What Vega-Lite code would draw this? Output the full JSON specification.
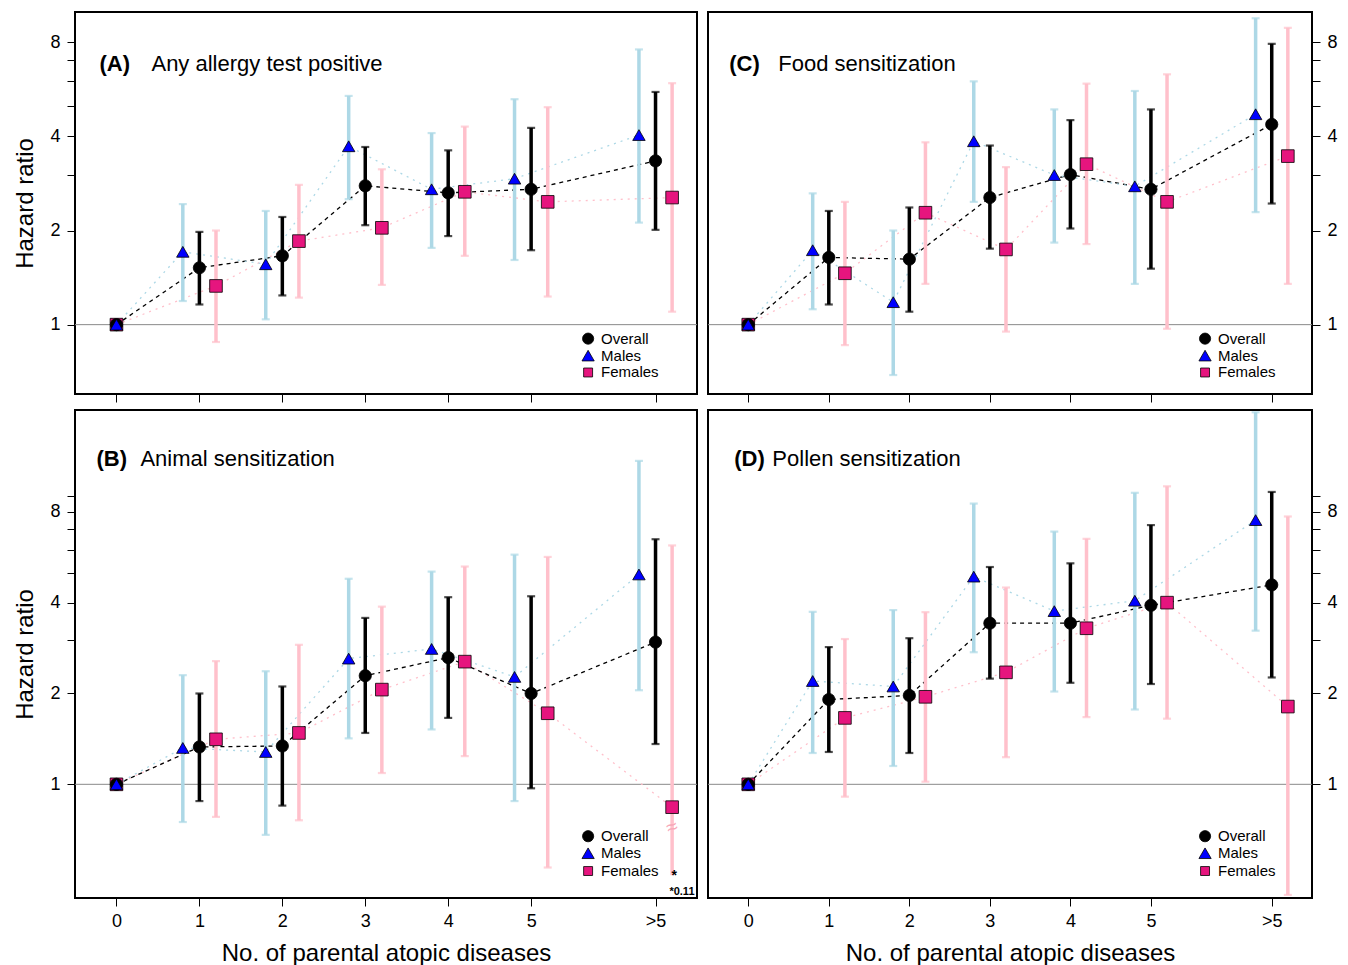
{
"$schema": "https://vega.github.io/schema/vega-lite/v6.json",
"padding": {"left": 12, "top": 11, "right": 0, "bottom": 0},
"background": "white",
"config": {
  "font": "Liberation Sans",
  "view": {"stroke": "black", "strokeWidth": 2},
  "axis": {"labelColor": "black", "tickColor": "black", "titleColor": "black", "labelFontSize": 18, "titleFontWeight": "normal", "grid": false, "domain": false, "tickWidth": 1, "tickSize": 8, "labelFont": "Liberation Sans", "labelOverlap": false, "labelFlush": false, "labelBound": false}
},
"datasets": {"hr": [
{"p":"A","n":"0","s":"Females","hr":1},{"p":"A","n":"0","s":"Overall","hr":1},{"p":"A","n":"0","s":"Males","hr":1},
{"p":"A","n":"1","s":"Females","hr":1.33,"lo":0.88,"hi":2.0},{"p":"A","n":"1","s":"Overall","hr":1.52,"lo":1.16,"hi":1.98},{"p":"A","n":"1","s":"Males","hr":1.71,"lo":1.19,"hi":2.43},
{"p":"A","n":"2","s":"Females","hr":1.85,"lo":1.22,"hi":2.8},{"p":"A","n":"2","s":"Overall","hr":1.66,"lo":1.24,"hi":2.21},{"p":"A","n":"2","s":"Males","hr":1.56,"lo":1.04,"hi":2.31},
{"p":"A","n":"3","s":"Females","hr":2.04,"lo":1.34,"hi":3.14},{"p":"A","n":"3","s":"Overall","hr":2.78,"lo":2.08,"hi":3.7},{"p":"A","n":"3","s":"Males","hr":3.72,"lo":2.52,"hi":5.39},
{"p":"A","n":"4","s":"Females","hr":2.66,"lo":1.66,"hi":4.3},{"p":"A","n":"4","s":"Overall","hr":2.64,"lo":1.92,"hi":3.61},{"p":"A","n":"4","s":"Males","hr":2.71,"lo":1.76,"hi":4.1},
{"p":"A","n":"5","s":"Females","hr":2.47,"lo":1.23,"hi":4.96},{"p":"A","n":"5","s":"Overall","hr":2.71,"lo":1.73,"hi":4.26},{"p":"A","n":"5","s":"Males","hr":2.93,"lo":1.61,"hi":5.26},
{"p":"A","n":">5","s":"Females","hr":2.55,"lo":1.1,"hi":5.92},{"p":"A","n":">5","s":"Overall","hr":3.34,"lo":2.01,"hi":5.55},{"p":"A","n":">5","s":"Males","hr":4.04,"lo":2.12,"hi":7.59},

{"p":"C","n":"0","s":"Females","hr":1},{"p":"C","n":"0","s":"Overall","hr":1},{"p":"C","n":"0","s":"Males","hr":1},
{"p":"C","n":"1","s":"Females","hr":1.46,"lo":0.86,"hi":2.47},{"p":"C","n":"1","s":"Overall","hr":1.64,"lo":1.16,"hi":2.31},{"p":"C","n":"1","s":"Males","hr":1.73,"lo":1.12,"hi":2.63},
{"p":"C","n":"2","s":"Females","hr":2.28,"lo":1.35,"hi":3.83},{"p":"C","n":"2","s":"Overall","hr":1.62,"lo":1.1,"hi":2.37},{"p":"C","n":"2","s":"Males","hr":1.18,"lo":0.69,"hi":2.0},
{"p":"C","n":"3","s":"Females","hr":1.74,"lo":0.95,"hi":3.19},{"p":"C","n":"3","s":"Overall","hr":2.55,"lo":1.75,"hi":3.74},{"p":"C","n":"3","s":"Males","hr":3.86,"lo":2.47,"hi":6.0},
{"p":"C","n":"4","s":"Females","hr":3.26,"lo":1.81,"hi":5.9},{"p":"C","n":"4","s":"Overall","hr":3.02,"lo":2.03,"hi":4.51},{"p":"C","n":"4","s":"Males","hr":3.01,"lo":1.83,"hi":4.88},
{"p":"C","n":"5","s":"Females","hr":2.47,"lo":0.97,"hi":6.32},{"p":"C","n":"5","s":"Overall","hr":2.71,"lo":1.51,"hi":4.88},{"p":"C","n":"5","s":"Males","hr":2.77,"lo":1.35,"hi":5.59},
{"p":"C","n":">5","s":"Females","hr":3.46,"lo":1.35,"hi":8.9},{"p":"C","n":">5","s":"Overall","hr":4.37,"lo":2.44,"hi":7.91},{"p":"C","n":">5","s":"Males","hr":4.71,"lo":2.29,"hi":9.55},

{"p":"B","n":"0","s":"Females","hr":1},{"p":"B","n":"0","s":"Overall","hr":1},{"p":"B","n":"0","s":"Males","hr":1},
{"p":"B","n":"1","s":"Females","hr":1.41,"lo":0.78,"hi":2.56},{"p":"B","n":"1","s":"Overall","hr":1.33,"lo":0.88,"hi":2.0},{"p":"B","n":"1","s":"Males","hr":1.32,"lo":0.75,"hi":2.3},
{"p":"B","n":"2","s":"Females","hr":1.48,"lo":0.76,"hi":2.9},{"p":"B","n":"2","s":"Overall","hr":1.34,"lo":0.85,"hi":2.11},{"p":"B","n":"2","s":"Males","hr":1.28,"lo":0.68,"hi":2.37},
{"p":"B","n":"3","s":"Females","hr":2.06,"lo":1.09,"hi":3.88},{"p":"B","n":"3","s":"Overall","hr":2.29,"lo":1.48,"hi":3.56},{"p":"B","n":"3","s":"Males","hr":2.61,"lo":1.42,"hi":4.8},
{"p":"B","n":"4","s":"Females","hr":2.55,"lo":1.24,"hi":5.27},{"p":"B","n":"4","s":"Overall","hr":2.63,"lo":1.66,"hi":4.17},{"p":"B","n":"4","s":"Males","hr":2.81,"lo":1.52,"hi":5.07},
{"p":"B","n":"5","s":"Females","hr":1.72,"lo":0.53,"hi":5.67},{"p":"B","n":"5","s":"Overall","hr":2.0,"lo":0.97,"hi":4.2},{"p":"B","n":"5","s":"Males","hr":2.27,"lo":0.88,"hi":5.77},
{"p":"B","n":">5","s":"Females","hr":0.84,"lo":0.11,"hi":6.19},{"p":"B","n":">5","s":"Overall","hr":2.96,"lo":1.36,"hi":6.49},{"p":"B","n":">5","s":"Males","hr":4.96,"lo":2.05,"hi":11.8},

{"p":"D","n":"0","s":"Females","hr":1},{"p":"D","n":"0","s":"Overall","hr":1},{"p":"D","n":"0","s":"Males","hr":1},
{"p":"D","n":"1","s":"Females","hr":1.66,"lo":0.91,"hi":3.03},{"p":"D","n":"1","s":"Overall","hr":1.91,"lo":1.28,"hi":2.85},{"p":"D","n":"1","s":"Males","hr":2.2,"lo":1.27,"hi":3.73},
{"p":"D","n":"2","s":"Females","hr":1.95,"lo":1.02,"hi":3.72},{"p":"D","n":"2","s":"Overall","hr":1.97,"lo":1.27,"hi":3.05},{"p":"D","n":"2","s":"Males","hr":2.11,"lo":1.15,"hi":3.78},
{"p":"D","n":"3","s":"Females","hr":2.35,"lo":1.23,"hi":4.49},{"p":"D","n":"3","s":"Overall","hr":3.42,"lo":2.24,"hi":5.25},{"p":"D","n":"3","s":"Males","hr":4.88,"lo":2.74,"hi":8.52},
{"p":"D","n":"4","s":"Females","hr":3.29,"lo":1.67,"hi":6.51},{"p":"D","n":"4","s":"Overall","hr":3.42,"lo":2.17,"hi":5.4},{"p":"D","n":"4","s":"Males","hr":3.75,"lo":2.03,"hi":6.88},
{"p":"D","n":"5","s":"Females","hr":4.0,"lo":1.65,"hi":9.72},{"p":"D","n":"5","s":"Overall","hr":3.92,"lo":2.15,"hi":7.23},{"p":"D","n":"5","s":"Males","hr":4.06,"lo":1.77,"hi":9.25},
{"p":"D","n":">5","s":"Females","hr":1.81,"lo":0.43,"hi":7.72},{"p":"D","n":">5","s":"Overall","hr":4.58,"lo":2.26,"hi":9.31},{"p":"D","n":">5","s":"Males","hr":7.51,"lo":3.23,"hi":17.1}
], "one": [{"k": 1}]},
"columns": 2,
"bounds": "flush",
"spacing": {"row": 16, "column": 11},
"resolve": {"scale": {"color": "independent", "fill": "independent", "shape": "independent", "size": "independent", "strokeDash": "independent"}},
"concat": [
 {"width": 622, "height": 382, "data": {"name": "hr"},
  "transform": [{"filter": "datum.p == 'A'"},
   {"calculate": "(datum.n == '>5' ? 6.5 : toNumber(datum.n)) + (datum.n == '0' ? 0 : (datum.s == 'Males' ? -0.2 : (datum.s == 'Females' ? 0.2 : 0)))", "as": "xp"},
   {"calculate": "isValid(datum.lo) && datum.lo < 0.42 ? 0.5 : datum.lo", "as": "lop"}],
  "layer": [
   {"data": {"name": "one"}, "mark": {"type": "rule", "color": "#8a8a8a", "strokeWidth": 1}, "encoding": {"y": {"datum": 1, "type": "quantitative"}}},
   {"mark": {"type": "line", "strokeWidth": 1.3},
    "encoding": {
     "x": {"field": "xp", "type": "quantitative", "scale": {"domain": [-0.5, 7], "nice": false, "zero": false}, "axis": {"values": [0,1,2,3,4,5,6.5], "labels": false, "title": null}},
     "y": {"field": "hr", "type": "quantitative", "scale": {"type": "log", "domain": [0.6, 10], "nice": false}, "axis": {"orient": "left", "values": [1,2,3,4,5,6,7,8], "labelExpr": "(datum.value == 1 || datum.value == 2 || datum.value == 4 || datum.value == 8) ? '' + datum.value : ''", "labelPadding": 7, "title": "Hazard ratio", "titleFontSize": 24, "titlePadding": 12}},
     "color": {"field": "s", "type": "nominal", "scale": {"domain": ["Overall","Males","Females"], "range": ["#000000","#ADD8E6","#FFC0CB"]}, "legend": null},
     "strokeDash": {"field": "s", "type": "nominal", "scale": {"domain": ["Overall","Males","Females"], "range": [[4,4],[2,5],[2,5]]}, "legend": null}}},
   {"transform": [{"filter": "isValid(datum.lo)"}], "mark": {"type": "rule", "strokeWidth": 3.5},
    "encoding": {"x": {"field": "xp", "type": "quantitative"}, "y": {"field": "lop", "type": "quantitative"}, "y2": {"field": "hi"}, "color": {"field": "s", "type": "nominal", "legend": null}}},
   {"transform": [{"filter": "isValid(datum.lo) && datum.lo >= 0.42"}], "mark": {"type": "tick", "orient": "horizontal", "size": 8, "thickness": 2.2},
    "encoding": {"x": {"field": "xp", "type": "quantitative"}, "y": {"field": "lo", "type": "quantitative"}, "color": {"field": "s", "type": "nominal", "legend": null}}},
   {"transform": [{"filter": "isValid(datum.hi)"}], "mark": {"type": "tick", "orient": "horizontal", "size": 8, "thickness": 2.2},
    "encoding": {"x": {"field": "xp", "type": "quantitative"}, "y": {"field": "hi", "type": "quantitative"}, "color": {"field": "s", "type": "nominal", "legend": null}}},
   {"mark": {"type": "point", "filled": true, "stroke": "black", "strokeWidth": 0.8, "opacity": 1},
    "encoding": {"x": {"field": "xp", "type": "quantitative"}, "y": {"field": "hr", "type": "quantitative"},
     "fill": {"field": "s", "type": "nominal", "scale": {"domain": ["Overall","Males","Females"], "range": ["#000000","#0000FF","#E6157E"]}, "legend": null},
     "shape": {"field": "s", "type": "nominal", "scale": {"domain": ["Overall","Males","Females"], "range": ["circle","triangle-up","square"]}, "legend": null},
     "size": {"field": "s", "type": "nominal", "scale": {"domain": ["Overall","Males","Females"], "range": [150,160,72]}, "legend": null}}},
   {"data": {"name": "one"}, "mark": {"type": "point", "filled": true, "fill": "#000000", "stroke": "black", "strokeWidth": 0.8, "opacity": 1, "shape": "circle", "size": 125}, "encoding": {"x": {"datum": 5.687, "type": "quantitative"}, "y": {"datum": 0.902, "type": "quantitative"}}},
   {"data": {"name": "one"}, "mark": {"type": "point", "filled": true, "fill": "#0000FF", "stroke": "black", "strokeWidth": 0.8, "opacity": 1, "shape": "triangle-up", "size": 150}, "encoding": {"x": {"datum": 5.687, "type": "quantitative"}, "y": {"datum": 0.796, "type": "quantitative"}}},
   {"data": {"name": "one"}, "mark": {"type": "point", "filled": true, "fill": "#E6157E", "stroke": "black", "strokeWidth": 0.8, "opacity": 1, "shape": "square", "size": 80}, "encoding": {"x": {"datum": 5.687, "type": "quantitative"}, "y": {"datum": 0.703, "type": "quantitative"}}},
   {"data": {"name": "one"}, "mark": {"type": "text", "text": "Overall", "fontSize": 15, "align": "left", "baseline": "middle", "color": "black"}, "encoding": {"x": {"datum": 5.843, "type": "quantitative"}, "y": {"datum": 0.902, "type": "quantitative"}}},
   {"data": {"name": "one"}, "mark": {"type": "text", "text": "Males", "fontSize": 15, "align": "left", "baseline": "middle", "color": "black"}, "encoding": {"x": {"datum": 5.843, "type": "quantitative"}, "y": {"datum": 0.796, "type": "quantitative"}}},
   {"data": {"name": "one"}, "mark": {"type": "text", "text": "Females", "fontSize": 15, "align": "left", "baseline": "middle", "color": "black"}, "encoding": {"x": {"datum": 5.843, "type": "quantitative"}, "y": {"datum": 0.703, "type": "quantitative"}}},
   {"data": {"values": [{"tag": "(A)", "name": "Any allergy test positive"}]}, "mark": {"type": "text", "align": "left", "baseline": "middle", "fontSize": 22, "fontWeight": "bold", "color": "black"},
    "encoding": {"x": {"datum": -0.205, "type": "quantitative"}, "y": {"datum": 6.8, "type": "quantitative"}, "text": {"field": "tag"}}},
   {"data": {"values": [{"tag": "(A)", "name": "Any allergy test positive"}]}, "mark": {"type": "text", "align": "left", "baseline": "middle", "fontSize": 22, "color": "black"},
    "encoding": {"x": {"datum": 0.422, "type": "quantitative"}, "y": {"datum": 6.8, "type": "quantitative"}, "text": {"field": "name"}}}
  ]},
 {"width": 604, "height": 382, "data": {"name": "hr"},
  "transform": [{"filter": "datum.p == 'C'"},
   {"calculate": "(datum.n == '>5' ? 6.5 : toNumber(datum.n)) + (datum.n == '0' ? 0 : (datum.s == 'Males' ? -0.2 : (datum.s == 'Females' ? 0.2 : 0)))", "as": "xp"},
   {"calculate": "isValid(datum.lo) && datum.lo < 0.42 ? 0.5 : datum.lo", "as": "lop"}],
  "layer": [
   {"data": {"name": "one"}, "mark": {"type": "rule", "color": "#8a8a8a", "strokeWidth": 1}, "encoding": {"y": {"datum": 1, "type": "quantitative"}}},
   {"mark": {"type": "line", "strokeWidth": 1.3},
    "encoding": {
     "x": {"field": "xp", "type": "quantitative", "scale": {"domain": [-0.5, 7], "nice": false, "zero": false}, "axis": {"values": [0,1,2,3,4,5,6.5], "labels": false, "title": null}},
     "y": {"field": "hr", "type": "quantitative", "scale": {"type": "log", "domain": [0.6, 10], "nice": false}, "axis": {"orient": "right", "values": [1,2,3,4,5,6,7,8], "labelExpr": "(datum.value == 1 || datum.value == 2 || datum.value == 4 || datum.value == 8) ? '' + datum.value : ''", "labelPadding": 7, "title": null}},
     "color": {"field": "s", "type": "nominal", "scale": {"domain": ["Overall","Males","Females"], "range": ["#000000","#ADD8E6","#FFC0CB"]}, "legend": null},
     "strokeDash": {"field": "s", "type": "nominal", "scale": {"domain": ["Overall","Males","Females"], "range": [[4,4],[2,5],[2,5]]}, "legend": null}}},
   {"transform": [{"filter": "isValid(datum.lo)"}], "mark": {"type": "rule", "strokeWidth": 3.5},
    "encoding": {"x": {"field": "xp", "type": "quantitative"}, "y": {"field": "lop", "type": "quantitative"}, "y2": {"field": "hi"}, "color": {"field": "s", "type": "nominal", "legend": null}}},
   {"transform": [{"filter": "isValid(datum.lo) && datum.lo >= 0.42"}], "mark": {"type": "tick", "orient": "horizontal", "size": 8, "thickness": 2.2},
    "encoding": {"x": {"field": "xp", "type": "quantitative"}, "y": {"field": "lo", "type": "quantitative"}, "color": {"field": "s", "type": "nominal", "legend": null}}},
   {"transform": [{"filter": "isValid(datum.hi)"}], "mark": {"type": "tick", "orient": "horizontal", "size": 8, "thickness": 2.2},
    "encoding": {"x": {"field": "xp", "type": "quantitative"}, "y": {"field": "hi", "type": "quantitative"}, "color": {"field": "s", "type": "nominal", "legend": null}}},
   {"mark": {"type": "point", "filled": true, "stroke": "black", "strokeWidth": 0.8, "opacity": 1},
    "encoding": {"x": {"field": "xp", "type": "quantitative"}, "y": {"field": "hr", "type": "quantitative"},
     "fill": {"field": "s", "type": "nominal", "scale": {"domain": ["Overall","Males","Females"], "range": ["#000000","#0000FF","#E6157E"]}, "legend": null},
     "shape": {"field": "s", "type": "nominal", "scale": {"domain": ["Overall","Males","Females"], "range": ["circle","triangle-up","square"]}, "legend": null},
     "size": {"field": "s", "type": "nominal", "scale": {"domain": ["Overall","Males","Females"], "range": [150,160,72]}, "legend": null}}},
   {"data": {"name": "one"}, "mark": {"type": "point", "filled": true, "fill": "#000000", "stroke": "black", "strokeWidth": 0.8, "opacity": 1, "shape": "circle", "size": 125}, "encoding": {"x": {"datum": 5.672, "type": "quantitative"}, "y": {"datum": 0.902, "type": "quantitative"}}},
   {"data": {"name": "one"}, "mark": {"type": "point", "filled": true, "fill": "#0000FF", "stroke": "black", "strokeWidth": 0.8, "opacity": 1, "shape": "triangle-up", "size": 150}, "encoding": {"x": {"datum": 5.672, "type": "quantitative"}, "y": {"datum": 0.796, "type": "quantitative"}}},
   {"data": {"name": "one"}, "mark": {"type": "point", "filled": true, "fill": "#E6157E", "stroke": "black", "strokeWidth": 0.8, "opacity": 1, "shape": "square", "size": 80}, "encoding": {"x": {"datum": 5.672, "type": "quantitative"}, "y": {"datum": 0.703, "type": "quantitative"}}},
   {"data": {"name": "one"}, "mark": {"type": "text", "text": "Overall", "fontSize": 15, "align": "left", "baseline": "middle", "color": "black"}, "encoding": {"x": {"datum": 5.833, "type": "quantitative"}, "y": {"datum": 0.902, "type": "quantitative"}}},
   {"data": {"name": "one"}, "mark": {"type": "text", "text": "Males", "fontSize": 15, "align": "left", "baseline": "middle", "color": "black"}, "encoding": {"x": {"datum": 5.833, "type": "quantitative"}, "y": {"datum": 0.796, "type": "quantitative"}}},
   {"data": {"name": "one"}, "mark": {"type": "text", "text": "Females", "fontSize": 15, "align": "left", "baseline": "middle", "color": "black"}, "encoding": {"x": {"datum": 5.833, "type": "quantitative"}, "y": {"datum": 0.703, "type": "quantitative"}}},
   {"data": {"values": [{"tag": "(C)", "name": "Food sensitization"}]}, "mark": {"type": "text", "align": "left", "baseline": "middle", "fontSize": 22, "fontWeight": "bold", "color": "black"},
    "encoding": {"x": {"datum": -0.236, "type": "quantitative"}, "y": {"datum": 6.8, "type": "quantitative"}, "text": {"field": "tag"}}},
   {"data": {"values": [{"tag": "(C)", "name": "Food sensitization"}]}, "mark": {"type": "text", "align": "left", "baseline": "middle", "fontSize": 22, "color": "black"},
    "encoding": {"x": {"datum": 0.373, "type": "quantitative"}, "y": {"datum": 6.8, "type": "quantitative"}, "text": {"field": "name"}}}
  ]},
 {"width": 622, "height": 488, "data": {"name": "hr"},
  "transform": [{"filter": "datum.p == 'B'"},
   {"calculate": "(datum.n == '>5' ? 6.5 : toNumber(datum.n)) + (datum.n == '0' ? 0 : (datum.s == 'Males' ? -0.2 : (datum.s == 'Females' ? 0.2 : 0)))", "as": "xp"},
   {"calculate": "isValid(datum.lo) && datum.lo < 0.42 ? 0.5 : datum.lo", "as": "lop"}],
  "layer": [
   {"data": {"name": "one"}, "mark": {"type": "rule", "color": "#8a8a8a", "strokeWidth": 1}, "encoding": {"y": {"datum": 1, "type": "quantitative"}}},
   {"mark": {"type": "line", "strokeWidth": 1.3},
    "encoding": {
     "x": {"field": "xp", "type": "quantitative", "scale": {"domain": [-0.5, 7], "nice": false, "zero": false}, "axis": {"values": [0,1,2,3,4,5,6.5], "labelExpr": "datum.value == 6.5 ? '>5' : '' + datum.value", "labelPadding": 6, "title": "No. of parental atopic diseases", "titleFontSize": 24, "titlePadding": 11}},
     "y": {"field": "hr", "type": "quantitative", "scale": {"type": "log", "domain": [0.42, 17.4], "nice": false}, "axis": {"orient": "left", "values": [1,2,3,4,5,6,7,8,9], "labelExpr": "(datum.value == 1 || datum.value == 2 || datum.value == 4 || datum.value == 8) ? '' + datum.value : ''", "labelPadding": 7, "title": "Hazard ratio", "titleFontSize": 24, "titlePadding": 12}},
     "color": {"field": "s", "type": "nominal", "scale": {"domain": ["Overall","Males","Females"], "range": ["#000000","#ADD8E6","#FFC0CB"]}, "legend": null},
     "strokeDash": {"field": "s", "type": "nominal", "scale": {"domain": ["Overall","Males","Females"], "range": [[4,4],[2,5],[2,5]]}, "legend": null}}},
   {"transform": [{"filter": "isValid(datum.lo)"}], "mark": {"type": "rule", "strokeWidth": 3.5},
    "encoding": {"x": {"field": "xp", "type": "quantitative"}, "y": {"field": "lop", "type": "quantitative"}, "y2": {"field": "hi"}, "color": {"field": "s", "type": "nominal", "legend": null}}},
   {"transform": [{"filter": "isValid(datum.lo) && datum.lo >= 0.42"}], "mark": {"type": "tick", "orient": "horizontal", "size": 8, "thickness": 2.2},
    "encoding": {"x": {"field": "xp", "type": "quantitative"}, "y": {"field": "lo", "type": "quantitative"}, "color": {"field": "s", "type": "nominal", "legend": null}}},
   {"transform": [{"filter": "isValid(datum.hi)"}], "mark": {"type": "tick", "orient": "horizontal", "size": 8, "thickness": 2.2},
    "encoding": {"x": {"field": "xp", "type": "quantitative"}, "y": {"field": "hi", "type": "quantitative"}, "color": {"field": "s", "type": "nominal", "legend": null}}},
   {"transform": [{"filter": "isValid(datum.lo) && datum.lo < 0.42"}], "mark": {"type": "text", "text": "≈", "fontSize": 20, "color": "#F7A8B8", "angle": -20, "baseline": "middle", "align": "center"},
    "encoding": {"x": {"field": "xp", "type": "quantitative"}, "y": {"datum": 0.72, "type": "quantitative"}}},
   {"transform": [{"filter": "isValid(datum.lo) && datum.lo < 0.42"}], "mark": {"type": "text", "text": "*", "fontSize": 14, "fontWeight": "bold", "color": "black", "baseline": "middle", "align": "center", "dx": 2, "dy": 1},
    "encoding": {"x": {"field": "xp", "type": "quantitative"}, "y": {"datum": 0.5, "type": "quantitative"}}},
   {"transform": [{"filter": "isValid(datum.lo) && datum.lo < 0.42"}, {"calculate": "'*' + format(datum.lo, '.2f')", "as": "note"}], "mark": {"type": "text", "fontSize": 11, "fontWeight": "bold", "color": "black", "baseline": "middle", "align": "right"},
    "encoding": {"x": {"datum": 6.97, "type": "quantitative"}, "y": {"datum": 0.44, "type": "quantitative"}, "text": {"field": "note"}}},
   {"mark": {"type": "point", "filled": true, "stroke": "black", "strokeWidth": 0.8, "opacity": 1},
    "encoding": {"x": {"field": "xp", "type": "quantitative"}, "y": {"field": "hr", "type": "quantitative"},
     "fill": {"field": "s", "type": "nominal", "scale": {"domain": ["Overall","Males","Females"], "range": ["#000000","#0000FF","#E6157E"]}, "legend": null},
     "shape": {"field": "s", "type": "nominal", "scale": {"domain": ["Overall","Males","Females"], "range": ["circle","triangle-up","square"]}, "legend": null},
     "size": {"field": "s", "type": "nominal", "scale": {"domain": ["Overall","Males","Females"], "range": [150,160,72]}, "legend": null}}},
   {"data": {"name": "one"}, "mark": {"type": "point", "filled": true, "fill": "#000000", "stroke": "black", "strokeWidth": 0.8, "opacity": 1, "shape": "circle", "size": 125}, "encoding": {"x": {"datum": 5.687, "type": "quantitative"}, "y": {"datum": 0.673, "type": "quantitative"}}},
   {"data": {"name": "one"}, "mark": {"type": "point", "filled": true, "fill": "#0000FF", "stroke": "black", "strokeWidth": 0.8, "opacity": 1, "shape": "triangle-up", "size": 150}, "encoding": {"x": {"datum": 5.687, "type": "quantitative"}, "y": {"datum": 0.591, "type": "quantitative"}}},
   {"data": {"name": "one"}, "mark": {"type": "point", "filled": true, "fill": "#E6157E", "stroke": "black", "strokeWidth": 0.8, "opacity": 1, "shape": "square", "size": 80}, "encoding": {"x": {"datum": 5.687, "type": "quantitative"}, "y": {"datum": 0.516, "type": "quantitative"}}},
   {"data": {"name": "one"}, "mark": {"type": "text", "text": "Overall", "fontSize": 15, "align": "left", "baseline": "middle", "color": "black"}, "encoding": {"x": {"datum": 5.843, "type": "quantitative"}, "y": {"datum": 0.673, "type": "quantitative"}}},
   {"data": {"name": "one"}, "mark": {"type": "text", "text": "Males", "fontSize": 15, "align": "left", "baseline": "middle", "color": "black"}, "encoding": {"x": {"datum": 5.843, "type": "quantitative"}, "y": {"datum": 0.591, "type": "quantitative"}}},
   {"data": {"name": "one"}, "mark": {"type": "text", "text": "Females", "fontSize": 15, "align": "left", "baseline": "middle", "color": "black"}, "encoding": {"x": {"datum": 5.843, "type": "quantitative"}, "y": {"datum": 0.516, "type": "quantitative"}}},
   {"data": {"values": [{"tag": "(B)", "name": "Animal sensitization"}]}, "mark": {"type": "text", "align": "left", "baseline": "middle", "fontSize": 22, "fontWeight": "bold", "color": "black"},
    "encoding": {"x": {"datum": -0.241, "type": "quantitative"}, "y": {"datum": 12, "type": "quantitative"}, "text": {"field": "tag"}}},
   {"data": {"values": [{"tag": "(B)", "name": "Animal sensitization"}]}, "mark": {"type": "text", "align": "left", "baseline": "middle", "fontSize": 22, "color": "black"},
    "encoding": {"x": {"datum": 0.289, "type": "quantitative"}, "y": {"datum": 12, "type": "quantitative"}, "text": {"field": "name"}}}
  ]},
 {"width": 604, "height": 488, "data": {"name": "hr"},
  "transform": [{"filter": "datum.p == 'D'"},
   {"calculate": "(datum.n == '>5' ? 6.5 : toNumber(datum.n)) + (datum.n == '0' ? 0 : (datum.s == 'Males' ? -0.2 : (datum.s == 'Females' ? 0.2 : 0)))", "as": "xp"},
   {"calculate": "isValid(datum.lo) && datum.lo < 0.42 ? 0.5 : datum.lo", "as": "lop"}],
  "layer": [
   {"data": {"name": "one"}, "mark": {"type": "rule", "color": "#8a8a8a", "strokeWidth": 1}, "encoding": {"y": {"datum": 1, "type": "quantitative"}}},
   {"mark": {"type": "line", "strokeWidth": 1.3},
    "encoding": {
     "x": {"field": "xp", "type": "quantitative", "scale": {"domain": [-0.5, 7], "nice": false, "zero": false}, "axis": {"values": [0,1,2,3,4,5,6.5], "labelExpr": "datum.value == 6.5 ? '>5' : '' + datum.value", "labelPadding": 6, "title": "No. of parental atopic diseases", "titleFontSize": 24, "titlePadding": 11}},
     "y": {"field": "hr", "type": "quantitative", "scale": {"type": "log", "domain": [0.42, 17.4], "nice": false}, "axis": {"orient": "right", "values": [1,2,3,4,5,6,7,8,9], "labelExpr": "(datum.value == 1 || datum.value == 2 || datum.value == 4 || datum.value == 8) ? '' + datum.value : ''", "labelPadding": 7, "title": null}},
     "color": {"field": "s", "type": "nominal", "scale": {"domain": ["Overall","Males","Females"], "range": ["#000000","#ADD8E6","#FFC0CB"]}, "legend": null},
     "strokeDash": {"field": "s", "type": "nominal", "scale": {"domain": ["Overall","Males","Females"], "range": [[4,4],[2,5],[2,5]]}, "legend": null}}},
   {"transform": [{"filter": "isValid(datum.lo)"}], "mark": {"type": "rule", "strokeWidth": 3.5},
    "encoding": {"x": {"field": "xp", "type": "quantitative"}, "y": {"field": "lop", "type": "quantitative"}, "y2": {"field": "hi"}, "color": {"field": "s", "type": "nominal", "legend": null}}},
   {"transform": [{"filter": "isValid(datum.lo) && datum.lo >= 0.42"}], "mark": {"type": "tick", "orient": "horizontal", "size": 8, "thickness": 2.2},
    "encoding": {"x": {"field": "xp", "type": "quantitative"}, "y": {"field": "lo", "type": "quantitative"}, "color": {"field": "s", "type": "nominal", "legend": null}}},
   {"transform": [{"filter": "isValid(datum.hi)"}], "mark": {"type": "tick", "orient": "horizontal", "size": 8, "thickness": 2.2},
    "encoding": {"x": {"field": "xp", "type": "quantitative"}, "y": {"field": "hi", "type": "quantitative"}, "color": {"field": "s", "type": "nominal", "legend": null}}},
   {"mark": {"type": "point", "filled": true, "stroke": "black", "strokeWidth": 0.8, "opacity": 1},
    "encoding": {"x": {"field": "xp", "type": "quantitative"}, "y": {"field": "hr", "type": "quantitative"},
     "fill": {"field": "s", "type": "nominal", "scale": {"domain": ["Overall","Males","Females"], "range": ["#000000","#0000FF","#E6157E"]}, "legend": null},
     "shape": {"field": "s", "type": "nominal", "scale": {"domain": ["Overall","Males","Females"], "range": ["circle","triangle-up","square"]}, "legend": null},
     "size": {"field": "s", "type": "nominal", "scale": {"domain": ["Overall","Males","Females"], "range": [150,160,72]}, "legend": null}}},
   {"data": {"name": "one"}, "mark": {"type": "point", "filled": true, "fill": "#000000", "stroke": "black", "strokeWidth": 0.8, "opacity": 1, "shape": "circle", "size": 125}, "encoding": {"x": {"datum": 5.672, "type": "quantitative"}, "y": {"datum": 0.673, "type": "quantitative"}}},
   {"data": {"name": "one"}, "mark": {"type": "point", "filled": true, "fill": "#0000FF", "stroke": "black", "strokeWidth": 0.8, "opacity": 1, "shape": "triangle-up", "size": 150}, "encoding": {"x": {"datum": 5.672, "type": "quantitative"}, "y": {"datum": 0.591, "type": "quantitative"}}},
   {"data": {"name": "one"}, "mark": {"type": "point", "filled": true, "fill": "#E6157E", "stroke": "black", "strokeWidth": 0.8, "opacity": 1, "shape": "square", "size": 80}, "encoding": {"x": {"datum": 5.672, "type": "quantitative"}, "y": {"datum": 0.516, "type": "quantitative"}}},
   {"data": {"name": "one"}, "mark": {"type": "text", "text": "Overall", "fontSize": 15, "align": "left", "baseline": "middle", "color": "black"}, "encoding": {"x": {"datum": 5.833, "type": "quantitative"}, "y": {"datum": 0.673, "type": "quantitative"}}},
   {"data": {"name": "one"}, "mark": {"type": "text", "text": "Males", "fontSize": 15, "align": "left", "baseline": "middle", "color": "black"}, "encoding": {"x": {"datum": 5.833, "type": "quantitative"}, "y": {"datum": 0.591, "type": "quantitative"}}},
   {"data": {"name": "one"}, "mark": {"type": "text", "text": "Females", "fontSize": 15, "align": "left", "baseline": "middle", "color": "black"}, "encoding": {"x": {"datum": 5.833, "type": "quantitative"}, "y": {"datum": 0.516, "type": "quantitative"}}},
   {"data": {"values": [{"tag": "(D)", "name": "Pollen sensitization"}]}, "mark": {"type": "text", "align": "left", "baseline": "middle", "fontSize": 22, "fontWeight": "bold", "color": "black"},
    "encoding": {"x": {"datum": -0.174, "type": "quantitative"}, "y": {"datum": 12, "type": "quantitative"}, "text": {"field": "tag"}}},
   {"data": {"values": [{"tag": "(D)", "name": "Pollen sensitization"}]}, "mark": {"type": "text", "align": "left", "baseline": "middle", "fontSize": 22, "color": "black"},
    "encoding": {"x": {"datum": 0.299, "type": "quantitative"}, "y": {"datum": 12, "type": "quantitative"}, "text": {"field": "name"}}}
  ]}
]
}
